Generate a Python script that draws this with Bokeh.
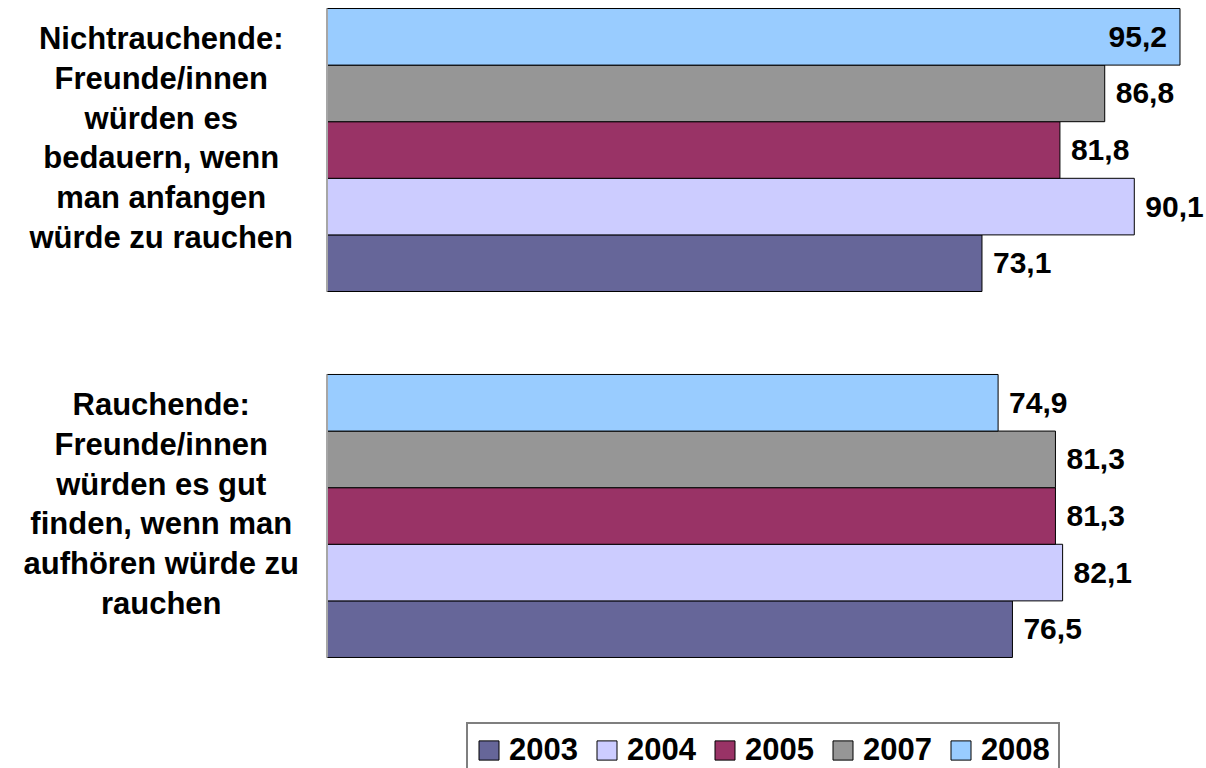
from bokeh.plotting import figure
from bokeh.models import ColumnDataSource, Range1d
from bokeh.core.properties import value
from bokeh.embed import file_html
from bokeh.resources import INLINE

# ---- data ----
categories = ["Nichtrauchende", "Rauchende"]
category_labels = [
    "Nichtrauchende:\nFreunde/innen\nwürden es\nbedauern, wenn\nman anfangen\nwürde zu rauchen",
    "Rauchende:\nFreunde/innen\nwürden es gut\nfinden, wenn man\naufhören würde zu\nrauchen",
]
years = ["2003", "2004", "2005", "2007", "2008"]
v2003 = [73.1, 76.5]
v2004 = [90.1, 82.1]
v2005 = [81.8, 81.3]
v2007 = [86.8, 81.3]
v2008 = [95.2, 74.9]
series = {"2003": v2003, "2004": v2004, "2005": v2005, "2007": v2007, "2008": v2008}
colors = {"2003": "#666699", "2004": "#CCCCFF", "2005": "#993366",
          "2007": "#969696", "2008": "#99CCFF"}

FONT = "Liberation Sans"

# ---- layout of the category axis (bar units) ----
BAR = 1.0
GAP = 1.466
PITCH = len(years) * BAR + GAP


def group_center(ci):
    return -ci * PITCH


def bar_y(ci, yi):
    # 2003 at the bottom of each group, 2008 on top
    return group_center(ci) + (yi - (len(years) - 1) / 2) * BAR


top = group_center(0) + len(years) * BAR / 2 + 8 / 56.6
bottom = top - 768 / 56.6
y_range = Range1d(bottom, top)
x_range = Range1d(-326.5 / 8.96, -326.5 / 8.96 + 1206 / 8.96)

p = figure(width=1206, height=768, x_range=x_range, y_range=y_range,
           output_backend="svg", toolbar_location=None,
           x_axis_location=None, y_axis_location=None,
           min_border_left=0, min_border_right=0, min_border_top=0,
           min_border_bottom=0)
p.outline_line_color = None
p.xgrid.visible = False
p.ygrid.visible = False
p.background_fill_color = "white"

for yi, yr in enumerate(years):
    src = ColumnDataSource(dict(y=[bar_y(ci, yi) for ci in range(len(categories))],
                                right=series[yr]))
    p.hbar(y="y", left=0, right="right", height=BAR, source=src,
           fill_color=colors[yr], line_color="#000000", line_width=1,
           legend_label=yr)

# category axis line, one segment per group
axsrc = ColumnDataSource(dict(
    x0=[0] * len(categories), x1=[0] * len(categories),
    y0=[group_center(ci) - len(years) * BAR / 2 for ci in range(len(categories))],
    y1=[group_center(ci) + len(years) * BAR / 2 for ci in range(len(categories))]))
p.segment(x0="x0", y0="y0", x1="x1", y1="y1", source=axsrc,
          line_color="#A6A6A6", line_width=2)

# value labels
lx, ly, lt, la, lo = [], [], [], [], []
for yi, yr in enumerate(years):
    for ci, v in enumerate(series[yr]):
        lx.append(v)
        ly.append(bar_y(ci, yi))
        lt.append(f"{v:.1f}".replace(".", ","))
        inside = v >= 92
        la.append("right" if inside else "left")
        lo.append(-13 if inside else 11)
lsrc = ColumnDataSource(dict(x=lx, y=ly, text=lt, align=la, xoff=lo))
p.text(x="x", y="y", text="text", source=lsrc, text_align="align", x_offset="xoff",
       text_baseline="middle", text_font=value(FONT), text_font_style="bold",
       text_font_size="30px", text_color="#000000")

# category labels
csrc = ColumnDataSource(dict(x=[-18.5] * len(categories),
                             y=[group_center(ci) for ci in range(len(categories))],
                             text=category_labels))
p.text(x="x", y="y", text="text", source=csrc, text_align="center",
       text_baseline="middle", y_offset=-12, text_line_height=1.14,
       text_font=value(FONT), text_font_style="bold", text_font_size="31px",
       text_color="#000000")

lg = p.legend[0]
lg.orientation = "horizontal"
lg.location = (466, -10)
lg.label_text_font = FONT
lg.label_text_font_style = "bold"
lg.label_text_font_size = "31px"
lg.label_text_color = "#000000"
lg.glyph_width = 25
lg.glyph_height = 24
lg.label_standoff = 8
lg.spacing = 16
lg.padding = 8
lg.margin = 0
lg.border_line_color = "#000000"
lg.border_line_width = 2
lg.background_fill_alpha = 1

open("out.html", "w").write(file_html(p, INLINE))
